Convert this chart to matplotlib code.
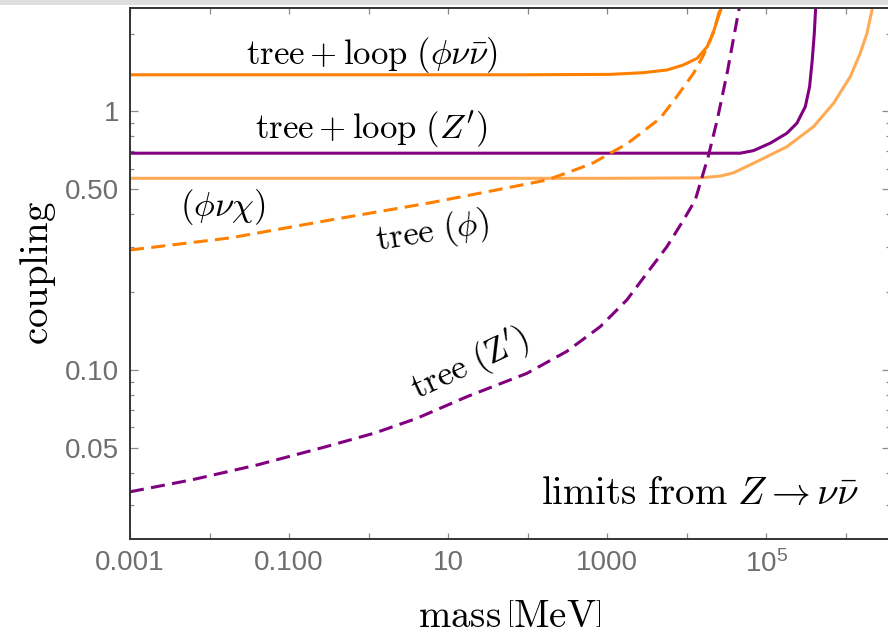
import matplotlib
matplotlib.use("Agg")
import matplotlib.pyplot as plt
from matplotlib.patches import Rectangle
from matplotlib.ticker import FixedLocator, NullFormatter

plt.rcParams["mathtext.fontset"] = "cm"

# ── data (mass in MeV, coupling) ─────────────────────────────────────────────
m_loop_phinunu = [1e-3, 100, 1090, 2840, 5690, 9040, 1.355e4, 1.81e4, 2.15e4, 2.42e4, 2.72e4, 2.9e4]
g_loop_phinunu = [1.385, 1.385, 1.39, 1.411, 1.446, 1.511, 1.604, 1.779, 2.004, 2.257, 2.504, 2.75]

m_phinuchi = [1e-3, 1000, 1.48e4, 2.64e4, 3.85e4, 6.92e4, 1.82e5, 3.94e5, 7.03e5,
              1.14e6, 1.52e6, 1.85e6, 2.14e6, 2.4e6]
g_phinuchi = [0.551, 0.551, 0.553, 0.562, 0.578, 0.630, 0.730, 0.873, 1.075,
              1.362, 1.678, 2.005, 2.47, 2.9]

m_loop_zp = [1e-3, 1000, 4.7e4, 6.92e4, 1.12e5, 1.82e5, 2.43e5, 3.1e5, 3.51e5, 3.79e5, 4.02e5, 4.17e5, 4.25e5]
g_loop_zp = [0.689, 0.689, 0.689, 0.705, 0.753, 0.823, 0.900, 1.043, 1.246, 1.58, 2.00, 2.47, 2.9]

m_tree_phi = [1e-3, 0.0181, 0.328, 5.94, 41, 176, 457, 667, 1786, 4640, 7500,
              1.22e4, 1.63e4, 1.98e4, 2.28e4, 2.6e4, 2.8e4]
g_tree_phi = [0.291, 0.324, 0.380, 0.443, 0.497, 0.543, 0.604, 0.632, 0.750, 0.940, 1.14,
              1.404, 1.652, 1.888, 2.126, 2.47, 2.75]

m_tree_zp = [1e-3, 6.0e-3, 0.0407, 0.284, 1.21, 4.04, 17.2, 97.7, 311, 817, 1770, 3160,
             5640, 9120, 1.28e4, 1.86e4, 2.42e4, 3.23e4, 3.85e4, 4.45e4, 5.0e4]
g_tree_zp = [0.0338, 0.0376, 0.0430, 0.0504, 0.0571, 0.0650, 0.0788, 0.0970, 0.118, 0.147, 0.1866, 0.2366,
             0.2998, 0.380, 0.454, 0.667, 0.927, 1.41, 1.89, 2.40, 2.9]

x_major = [1e-3, 1e-1, 1e1, 1e3, 1e5]
x_major_labels = ["0.001", "0.100", "10", "1000", r"$\mathregular{10^5}$"]
x_minor = [1e-2, 1.0, 1e2, 1e4, 1e6]
y_major = [1.0, 0.5, 0.1, 0.05]
y_major_labels = ["1", "0.50", "0.10", "0.05"]
y_minor = [2, 0.9, 0.8, 0.7, 0.6, 0.4, 0.3, 0.2, 0.09, 0.08, 0.07, 0.06, 0.04, 0.03]

ORANGE = "#FF8000"
LIGHT_ORANGE = "#FFAA55"
PURPLE = "#800080"
TICK_GRAY = "#6e6e6e"

# ── figure ────────────────────────────────────────────────────────────────────
fig = plt.figure(figsize=(8.88, 6.41), dpi=100)
W, H = 888, 641
ax = fig.add_axes([130 / W, (H - 539) / H, 760 / W, 531 / H])
ax.set_xscale("log")
ax.set_yscale("log")

lw = 2.2
dash = (4.6, 2.4)
ax.plot(m_phinuchi, g_phinuchi, color=LIGHT_ORANGE, lw=lw)
ax.plot(m_loop_phinunu, g_loop_phinunu, color=ORANGE, lw=lw)
ax.plot(m_loop_zp, g_loop_zp, color=PURPLE, lw=lw)
ax.plot(m_tree_phi, g_tree_phi, color=ORANGE, lw=lw, dashes=dash)
ax.plot(m_tree_zp, g_tree_zp, color=PURPLE, lw=lw, dashes=dash)

ax.set_xlim(1e-3, 3.6e6)
ax.set_ylim(0.0222, 2.51)

# ticks
ax.xaxis.set_major_locator(FixedLocator(x_major))
ax.set_xticklabels(x_major_labels)
ax.xaxis.set_minor_locator(FixedLocator(x_minor))
ax.xaxis.set_minor_formatter(NullFormatter())
ax.yaxis.set_major_locator(FixedLocator(y_major))
ax.set_yticklabels(y_major_labels)
ax.yaxis.set_minor_locator(FixedLocator(y_minor))
ax.yaxis.set_minor_formatter(NullFormatter())

ax.tick_params(which="both", direction="in", top=True, right=True,
               color="#8a8a8a", width=0.9)
ax.tick_params(axis="x", which="both", length=4)
ax.tick_params(axis="y", which="major", length=5.5)
ax.tick_params(axis="y", which="minor", length=3)
ax.tick_params(which="major", labelsize=20, labelcolor=TICK_GRAY, pad=8)
for lab in ax.get_xticklabels() + ax.get_yticklabels():
    lab.set_fontfamily("Liberation Sans")

for sp in ax.spines.values():
    sp.set_color("#333333")
    sp.set_linewidth(1.4)

# axis labels
ax.set_xlabel(r"$\mathrm{mass}\,\left[\mathrm{MeV}\right]$", fontsize=28, va="center")
ax.xaxis.set_label_coords(0.5, -0.145)
ax.set_ylabel(r"$\mathrm{coupling}$", fontsize=28, va="center")
ax.yaxis.set_label_coords(-0.121, 0.5)

# curve labels
lab_kw = dict(fontsize=25, ha="center", va="center", color="black")
ax.text(1.1, 1.65, r"$\mathrm{tree} + \mathrm{loop}\ (\phi\nu\bar{\nu})$", **lab_kw)
ax.text(1.1, 0.847, r"$\mathrm{tree} + \mathrm{loop}\ (Z')$", **lab_kw)
ax.text(0.0144, 0.427, r"$(\phi\nu\chi)$", **lab_kw)
ax.text(6.3, 0.342, r"$\mathrm{tree}\ (\phi)$", rotation=9, rotation_mode="anchor", **lab_kw)
ax.text(18.9, 0.1045, r"$\mathrm{tree}\ (\mathrm{Z}')$", rotation=25, rotation_mode="anchor", **lab_kw)
ax.text(1.43e6, 0.0334, r"$\mathrm{limits\ from}\ Z \to \nu\bar{\nu}$",
        fontsize=28, ha="right", va="center")

# faint grey band along the very top edge (screenshot frame)
fig.patches.append(Rectangle((0, (H - 5) / H), 1, 5 / H, transform=fig.transFigure,
                             facecolor="#dedede", edgecolor="none"))

fig.savefig("out.png", dpi=100)
